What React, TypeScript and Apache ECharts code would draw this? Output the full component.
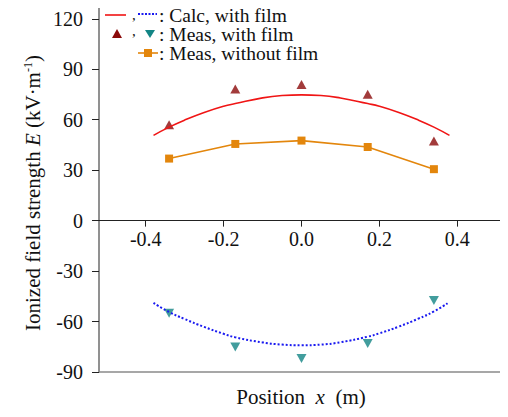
import React, { useEffect, useRef } from "react";
import * as echarts from "echarts";

const calcWithFilmPos: number[][] = [
  [-0.38, 50.7], [-0.34, 55.6], [-0.3, 59.8], [-0.25, 64.3], [-0.2, 68.0], [-0.17, 69.6],
  [-0.1, 73.0], [-0.05, 74.4], [0, 74.8], [0.05, 74.4], [0.1, 72.9], [0.17, 69.6],
  [0.2, 68.0], [0.25, 64.3], [0.3, 59.8], [0.34, 55.6], [0.38, 50.7],
];
const calcWithFilmNeg: number[][] = [
  [-0.38, -48.9], [-0.34, -54.3], [-0.3, -58.5], [-0.25, -63.2], [-0.2, -67.3], [-0.17, -69.4],
  [-0.1, -72.4], [-0.05, -73.7], [0, -74.1], [0.05, -73.7], [0.1, -72.3], [0.17, -69.0],
  [0.2, -67.0], [0.25, -63.0], [0.3, -58.3], [0.34, -54.0], [0.375, -49.1],
];
const measPositions: number[] = [-0.34, -0.17, 0, 0.17, 0.34];
const measWithFilmPos: number[] = [57.0, 78.2, 80.9, 75.2, 47.4];
const measWithFilmNeg: number[] = [-55.0, -75.1, -82.0, -73.1, -47.5];
const measWithoutFilm: number[] = [36.9, 45.6, 47.6, 43.8, 30.6];
const yTicks: number[] = [-90, -60, -30, 0, 30, 60, 90, 120];
const xTicks: number[] = [-0.4, -0.2, 0, 0.2, 0.4];

const FONT = "Liberation Serif";
const RED = "#F01515";
const BLUE = "#1A1AF0";
const DARKRED = "#8B0A0A";
const TEAL = "#138585";
const ORANGE = "#E3860C";

const Y_MIN = -90;
const Y_MAX = 130;
const GRID_TOP = 2;
const GRID_BOTTOM = 45;
const H = 417;
const plotH = H - GRID_TOP - GRID_BOTTOM;
const zeroOffset = -plotH * (0 - Y_MIN) / (Y_MAX - Y_MIN);

const txt = (text: string, x: number, y: number, lh: number = 18, fs: number = 19.5) => ({
  type: "text", x, y,
  style: { text, fontFamily: FONT, fontSize: fs, fill: "#111", verticalAlign: "middle", lineHeight: lh },
});

export default function App() {
  const ref = useRef<HTMLDivElement>(null);
  useEffect(() => {
    if (!ref.current) return;
    const chart = echarts.init(ref.current, undefined, { renderer: "svg" });
    const zip = (xs: number[], ys: number[]) => xs.map((x, i) => [x, ys[i]]);
    chart.setOption({
      animation: false,
      backgroundColor: "#fff",
      textStyle: { fontFamily: FONT },
      grid: {
        left: 99, right: 4, top: GRID_TOP, bottom: GRID_BOTTOM,
        show: true, borderColor: "#8a8a8a", borderWidth: 1.5, backgroundColor: "transparent",
      },
      xAxis: [
        {
          type: "value", min: -0.52, max: 0.52, position: "bottom", offset: zeroOffset,
          axisLine: { onZero: false, lineStyle: { color: "#222", width: 1 } },
          axisTick: { show: true, inside: false, length: 6, customValues: xTicks, lineStyle: { color: "#222" } },
          axisLabel: {
            customValues: xTicks, margin: 8,
            formatter: (v: number) => v.toFixed(1),
            fontFamily: FONT, fontSize: 20, color: "#111",
          },
          splitLine: { show: false },
        },
      ],
      yAxis: [
        {
          type: "value", min: Y_MIN, max: Y_MAX, position: "left",
          axisLine: { show: true, onZero: false, lineStyle: { color: "#8a8a8a", width: 1.5 } },
          axisTick: { show: true, inside: false, length: 7, customValues: yTicks, lineStyle: { color: "#222" } },
          axisLabel: {
            customValues: yTicks, margin: 16,
            fontFamily: FONT, fontSize: 20, color: "#111",
          },
          splitLine: { show: false },
        },
        {
          type: "value", min: Y_MIN, max: Y_MAX, position: "right",
          axisLine: { show: true, onZero: false, lineStyle: { color: "#000", width: 2 } },
          axisTick: { show: false }, axisLabel: { show: false }, splitLine: { show: false },
        },
      ],
      series: [
        {
          type: "line", data: calcWithFilmPos, smooth: true, showSymbol: false,
          lineStyle: { color: RED, width: 1.6 },
        },
        {
          type: "line", data: calcWithFilmNeg, smooth: true, showSymbol: false,
          lineStyle: { color: BLUE, width: 2, type: [2, 2] },
        },
        {
          type: "scatter", data: zip(measPositions, measWithFilmPos),
          symbol: "triangle", symbolSize: [10, 9], itemStyle: { color: DARKRED },
        },
        {
          type: "scatter", data: zip(measPositions, measWithFilmNeg),
          symbol: "triangle", symbolRotate: 180, symbolSize: [10, 9], itemStyle: { color: TEAL },
        },
        {
          type: "line", data: zip(measPositions, measWithoutFilm),
          symbol: "rect", symbolSize: 8, showAllSymbol: true,
          lineStyle: { color: ORANGE, width: 1.6 }, itemStyle: { color: ORANGE },
        },
      ],
      graphic: [
        { type: "line", shape: { x1: 105, y1: 15, x2: 126, y2: 15 }, style: { stroke: RED, lineWidth: 1.6 } },
        txt(",", 132, 14.5, 8, 15),
        { type: "line", shape: { x1: 138, y1: 14, x2: 157, y2: 14 }, style: { stroke: BLUE, lineWidth: 2, lineDash: [2, 1.5] } },
        txt(": Calc, with film", 159, 15),
        { type: "polygon", shape: { points: [[112, 38], [122, 38], [117, 29]] }, style: { fill: DARKRED } },
        txt(",", 132, 30.5, 8, 15),
        { type: "polygon", shape: { points: [[145, 30], [155, 30], [150, 38]] }, style: { fill: TEAL } },
        txt(": Meas, with film", 159, 34),
        { type: "line", shape: { x1: 138, y1: 53, x2: 158, y2: 53 }, style: { stroke: ORANGE, lineWidth: 1.6 } },
        { type: "rect", shape: { x: 144, y: 49, width: 8, height: 8 }, style: { fill: ORANGE } },
        txt(": Meas, without film", 159, 53),
        {
          type: "text", x: 301, y: 397,
          style: {
            text: "{n|Position  }{i|x}{n|  (m)}",
            align: "center", verticalAlign: "middle",
            rich: {
              n: { fontFamily: FONT, fontSize: 21, fill: "#111" },
              i: { fontFamily: FONT, fontSize: 21, fontStyle: "italic", fill: "#111" },
            },
          },
        },
        {
          type: "text", x: 33, y: 193, rotation: Math.PI / 2,
          style: {
            text: "{n|Ionized field strength }{i|E}{n| (kV·m}{s|-1}{n|)}",
            align: "center", verticalAlign: "middle",
            rich: {
              n: { fontFamily: FONT, fontSize: 21, fill: "#111", lineHeight: 22 },
              i: { fontFamily: FONT, fontSize: 21, fontStyle: "italic", fill: "#111", lineHeight: 22 },
              s: { fontFamily: FONT, fontSize: 12, fill: "#111", verticalAlign: "top", lineHeight: 22, padding: [0, 0, 10, 0] },
            },
          },
        },
      ],
    });
    return () => chart.dispose();
  }, []);
  return <div ref={ref} style={{ width: 508, height: 417, margin: -8 }} />;
}
